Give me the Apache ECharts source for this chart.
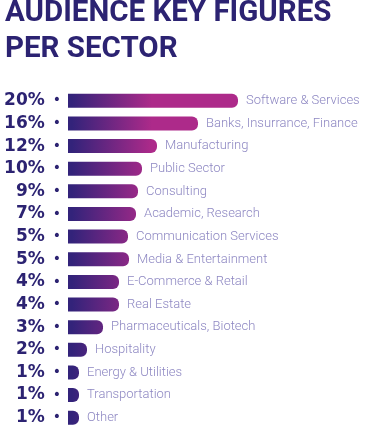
<!DOCTYPE html>
<html>
<head>
<meta charset="utf-8">
<script src="https://cdn.jsdelivr.net/npm/echarts@6/dist/echarts.min.js"></script>
<style>
html,body{margin:0;padding:0;background:#fff;}
#chart{width:375px;height:448px;}
</style>
</head>
<body>
<div id="chart"></div>
<script>
// Sector names (top to bottom)
const sectors = [
  'Software & Services', 'Banks, Insurrance, Finance', 'Manufacturing', 'Public Sector',
  'Consulting', 'Academic, Research', 'Communication Services', 'Media & Entertainment',
  'E-Commerce & Retail', 'Real Estate', 'Pharmaceuticals, Biotech', 'Hospitality',
  'Energy & Utilities', 'Transportation', 'Other'
];
// Displayed audience shares
const shareLabels = ['20%', '16%', '12%', '10%', '9%', '7%', '5%', '5%', '4%', '4%', '3%', '2%', '1%', '1%', '1%'];
// Bar lengths as drawn in the picture (stylised, on a 0-170 scale)
const barLengths = [170, 130, 89, 74, 70, 68, 60, 61, 51, 51, 35, 19, 11, 11, 11];

const chart = echarts.init(document.getElementById('chart'), null, {renderer: 'canvas'});
const navy = '#2c2372';
chart.setOption({
  animation: false,
  title: {
    text: 'AUDIENCE KEY FIGURES\nPER SECTOR',
    left: 0,
    top: -9,
    textStyle: {
      fontFamily: 'Roboto',
      fontWeight: 'bold',
      fontSize: 29.5,
      lineHeight: 36,
      color: navy
    }
  },
  grid: {left: 68, width: 170, top: 89.5, bottom: 19, containLabel: false},
  xAxis: {type: 'value', min: 0, max: 170, show: false},
  yAxis: {
    type: 'category',
    inverse: true,
    data: sectors,
    axisLine: {show: false},
    axisTick: {show: false},
    axisLabel: {
      margin: 7,
      formatter: function (v, i) { return '{p|' + shareLabels[i] + '}{d|•}'; },
      rich: {
        p: {fontFamily: 'DejaVu Sans', fontWeight: 'bold', fontSize: 17, color: navy},
        d: {fontFamily: 'DejaVu Sans', fontSize: 14, color: navy, padding: [0, 0, 0, 8]}
      }
    }
  },
  series: [{
    type: 'bar',
    data: barLengths,
    barWidth: 14,
    itemStyle: {
      borderRadius: [0, 6, 6, 0],
      color: {
        type: 'linear', x: 72, y: 0, x2: 152, y2: 0, global: true,
        colorStops: [
          {offset: 0, color: '#33237a'},
          {offset: 1, color: '#ad2a8a'}
        ]
      }
    },
    label: {
      show: true,
      position: 'right',
      distance: 8,
      formatter: '{b}',
      fontFamily: 'Roboto',
      fontWeight: 300,
      fontSize: 13,
      color: '#8d87c2'
    }
  }]
});
</script>
</body>
</html>
